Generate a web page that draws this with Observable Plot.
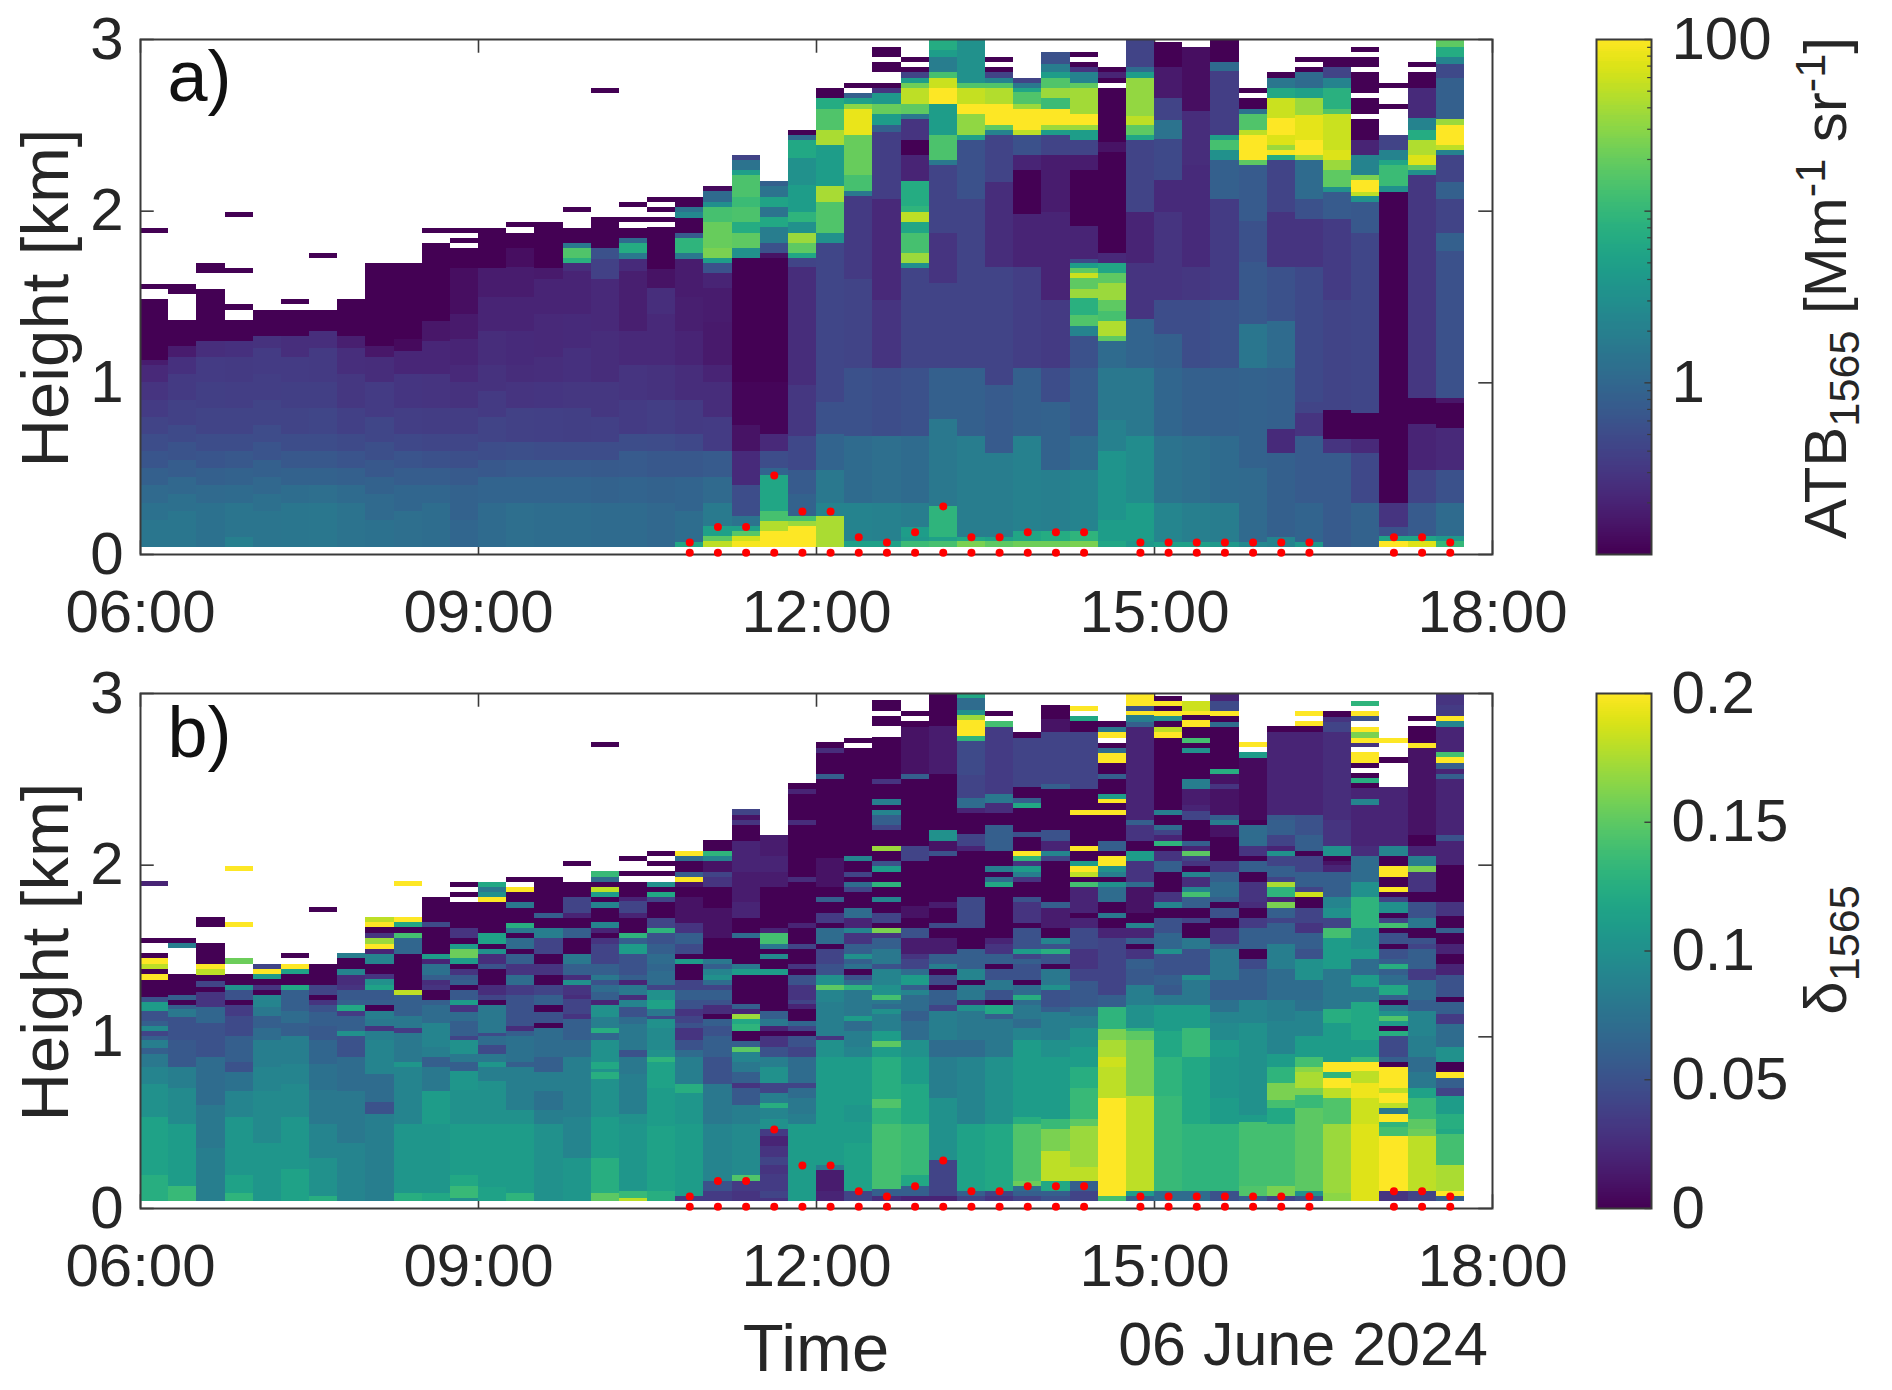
<!DOCTYPE html>
<html><head><meta charset="utf-8">
<script src="https://cdn.jsdelivr.net/npm/d3@7"></script>
<script src="https://cdn.jsdelivr.net/npm/@observablehq/plot@0.6"></script>
<style>
html,body{margin:0;padding:0;background:#fff}
#root{position:relative;width:1892px;height:1390px;overflow:hidden;font-family:"Liberation Sans",Arial,sans-serif;color:#262626}
#root svg{position:absolute;max-width:none}
.lab{position:absolute;white-space:nowrap;line-height:1;transform:translate(-50%,-50%)}
.rot{transform:translate(-50%,-50%) rotate(-90deg)}
.lab sub,.lab sup{font-size:.72em;line-height:0}
</style></head><body><div id="root"></div>
<script>
// Height at the base of every lidar profile [km]
const profileBase = 0.043;
const firstHour = 6, stepHours = 0.25;
const timeTicks = [6, 9, 12, 15, 18];
const heightTicks = [0, 1, 2, 3];
const panelLabels = ["a)", "b)"];

// Each row is one 15-minute profile: top of layer [km], value, top of layer, value ... (null = no data)
const atbProfiles = [
[.2,1.5,.3,1.3,.4,1.05,.5,.8,.6,.62,.7,.5,.8,.4,.9,.33,1,.28,1.1,.22,1.13,.17,1.483,.1,1.544,null,1.574,.1,1.871,null,1.9,.1],
[.25,1.5,.35,1.25,.45,1,.55,.75,.65,.58,.75,.47,.9,.38,1.05,.32,1.15,.26,1.21,.17,1.363,.1,1.515,null,1.574,.1],
[.3,1.3,.4,1.05,.5,.8,.6,.62,.7,.5,.85,.4,1,.36,1.15,.33,1.24,.25,1.544,.1,1.635,null,1.694,.1],
[.1,1.9,.3,1.45,.4,1.1,.5,.85,.6,.65,.7,.5,.85,.4,1,.35,1.15,.32,1.24,.26,1.363,.1,1.424,null,1.454,.1,1.635,null,1.665,.1,1.964,null,1.994,.1],
[.25,1.45,.35,1.25,.45,1,.55,.8,.65,.6,.75,.48,.9,.4,1.05,.35,1.2,.33,1.27,.27,1.424,.1],
[.3,1.5,.4,1.15,.5,.85,.6,.65,.7,.5,.85,.4,1,.36,1.15,.33,1.27,.25,1.424,.1,1.454,null,1.483,.1],
[.3,1.55,.4,1.2,.5,.85,.6,.65,.7,.5,.85,.42,1,.36,1.2,.32,1.3,.25,1.424,.1,1.723,null,1.753,.1],
[.3,1.4,.4,1.1,.5,.8,.6,.6,.7,.47,.85,.37,1.05,.3,1.2,.25,1.27,.18,1.483,.1],
[.2,1.3,.35,1.05,.45,.85,.55,.65,.65,.52,.8,.42,1,.33,1.15,.24,1.21,.15,1.694,.1],
[.25,1.2,.4,.95,.5,.75,.6,.6,.7,.45,.85,.35,1.05,.29,1.18,.21,1.25,.12,1.694,.1],
[.3,1.15,.4,.95,.5,.75,.6,.55,.7,.42,.85,.34,1.05,.28,1.24,.21,1.36,.15,1.814,.1,1.871,null,1.9,.1],
[.2,.95,.4,.85,.5,.68,.6,.52,.7,.42,.85,.34,1,.27,1.1,.22,1.25,.2,1.4,.16,1.664,.13,1.783,.1,1.812,null,1.842,.1,1.871,null,1.9,.1],
[.3,1.1,.45,.9,.55,.65,.65,.5,.8,.4,.95,.32,1.1,.27,1.3,.24,1.5,.2,1.664,.17,1.9,.1],
[.3,1.2,.45,.9,.55,.7,.65,.52,.85,.38,1,.28,1.1,.24,1.3,.23,1.5,.2,1.67,.17,1.78,.13,1.871,.1,1.903,null,1.932,.1],
[.3,1.15,.45,.9,.55,.7,.65,.5,.85,.37,1,.29,1.15,.25,1.4,.22,1.6,.2,1.664,.16,1.932,.1],
[.3,1.15,.45,.9,.55,.7,.65,.5,.85,.36,1,.3,1.2,.26,1.4,.23,1.65,.2,1.694,.24,1.723,8,1.783,15,1.812,1.6,1.9,.1,1.993,null,2.023,.1],
[.3,1.1,.45,.85,.55,.68,.65,.5,.8,.37,1,.3,1.3,.24,1.6,.22,1.72,.38,1.783,.56,1.964,.1,2.685,null,2.714,.1],
[.3,1.1,.45,.9,.6,.7,.7,.5,.9,.33,1.1,.28,1.3,.22,1.5,.18,1.65,.18,1.72,.23,1.753,1.6,1.814,7,1.84,1.1,1.9,.1,1.932,null,1.964,.1,2.023,null,2.052,.1],
[.3,1,.45,.85,.6,.65,.7,.48,.9,.35,1.1,.27,1.4,.22,1.55,.25,1.66,.14,1.903,.1,1.932,null,1.964,.1,1.993,null,2.023,.1,2.052,null,2.082,.1],
[.07,6,.25,1.15,.45,.9,.6,.65,.7,.45,.9,.32,1.1,.24,1.3,.2,1.5,.18,1.72,.17,1.753,1.6,1.84,9,1.87,.7,1.96,.1,1.99,2.5,2.023,1.4,2.082,.1],
[.073,50,.102,18,.162,5,.3,1.7,.45,1.05,.6,.7,.8,.33,1,.24,1.1,.2,1.35,.16,1.55,.17,1.635,.2,1.694,.56,1.723,4.5,1.783,25,1.932,20,2.023,13,2.052,3,2.113,1.1,2.143,.12],
[.073,90,.102,60,.132,16,.162,5,.221,1.4,.4,.5,.6,.23,.75,.14,1,.11,1.723,.1,1.783,3.2,1.871,18,1.932,7,2.02,14,2.08,11,2.206,14,2.236,5,2.295,1.4,2.324,.4],
[.132,100,.191,45,.25,13,.461,6,.5,.9,.6,.5,.7,.22,1,.11,1.723,.1,1.753,.14,1.812,.56,1.903,1.8,1.964,6.3,2.023,1.4,2.082,5.5,2.143,1.4,2.173,.8],
[.162,100,.191,35,.221,13,.35,.85,.49,.7,.69,.45,.985,.3,1.674,.24,1.723,.4,1.753,6,1.812,18,1.871,35,1.932,3.2,1.993,9,2.147,4.5,2.305,3.2,2.41,6.3,2.442,1.1,2.472,.1],
[.221,42,.3,2.2,.49,1.6,.7,.9,.886,.55,1.812,.42,1.87,3.2,2.05,15,2.143,40,2.383,4.5,2.472,42,2.59,15,2.655,7,2.714,.1],
[.073,5,.295,2.2,.689,1.1,1.083,.55,1.6,.4,2.087,.32,2.113,1.6,2.206,13,2.442,20,2.594,80,2.624,30,2.655,5,2.685,.8,2.714,null,2.744,.1],
[.073,5,.295,2,.689,1.2,1.083,.5,1.477,.28,2.07,.22,2.46,.35,2.5,.8,2.564,4.5,2.624,20,2.685,4,2.714,.28,2.744,.1,2.805,null,2.864,.1,2.895,null,2.955,.1],
[.073,11,.1,4,.16,4.5,.295,1.8,.689,1.1,1.083,.55,1.664,.4,1.694,3,1.753,35,1.871,13,1.932,6,1.99,50,2.03,9,2.173,7,2.324,.2,2.413,.1,2.533,.28,2.564,1.6,2.624,18,2.714,50,2.744,22,2.773,4.5,2.805,.4,2.836,.1,2.864,null,2.895,.1],
[.073,13,.098,5,.28,9,.788,1.6,1.083,.8,1.576,.4,1.871,.28,2.265,.4,2.295,1.6,2.442,14,2.624,4.5,2.714,100,2.773,58,2.805,13,2.895,1.8,2.935,4.5,3,7],
[.073,25,.098,6,.689,1.8,1.083,.8,2.07,.4,2.413,.55,2.442,5,2.564,32,2.624,100,2.714,55,2.744,15,3,3.2],
[.073,18,.098,5,.591,1.8,.985,.7,1.674,.4,2.167,.24,2.442,.4,2.472,2.2,2.5,18,2.624,100,2.714,45,2.744,15,2.773,2.2,2.805,.4,2.836,.1,2.864,null,2.895,.1],
[.073,22,.132,6,.689,2,1.083,.8,1.674,.35,1.983,.2,2.236,.1,2.324,.2,2.442,.55,2.47,50,2.594,100,2.624,35,2.69,15,2.714,6,2.744,1.6,2.773,.4],
[.073,22,.132,7,.492,1.9,.886,.85,1.083,.5,1.48,.32,1.674,.2,1.99,.2,2.324,.17,2.442,.4,2.472,4.5,2.5,35,2.594,100,2.655,11,2.714,35,2.773,15,2.805,4.5,2.856,1.8,2.925,.55],
[.073,25,.132,9,.492,2.2,.689,1.1,1.083,.7,1.27,.55,1.33,2.2,1.39,15,1.49,8,1.544,35,1.605,18,1.635,58,1.664,18,1.694,4.5,1.72,.46,1.91,.2,2.236,.1,2.324,.17,2.413,.4,2.472,4.5,2.5,35,2.564,100,2.714,38,2.744,18,2.805,2.2,2.836,.28,2.864,.1,2.895,null,2.925,.1],
[.073,6,.2,4.5,.6,3.6,.78,2,1.083,1.6,1.24,1.1,1.27,18,1.355,44,1.414,13,1.477,18,1.576,35,1.635,18,1.694,6,1.753,.22,2.344,.1,2.4,.14,2.714,.1,2.744,null,2.773,.1,2.805,.2,2.836,.1],
[.073,4,.295,4.5,.689,2.8,1.083,1.6,1.37,.9,1.694,.28,1.99,.2,2.413,.4,2.442,6,2.5,18,2.554,50,2.773,33,2.805,4.5,2.836,1.1,3,.4],
[.07,5,.295,2.3,.689,1.4,1.083,.95,1.28,.8,1.477,.5,1.99,.28,2.18,.23,2.42,.46,2.53,1.4,2.655,.4,2.836,.16,2.98,.1],
[.07,5,.295,1.9,.689,1.2,1.083,.8,1.477,.5,1.674,.3,2.265,.23,2.58,.24,2.955,.13],
[.07,4,.295,1.8,.689,1.1,1.083,.8,1.477,.55,2.07,.33,2.295,.8,2.354,3.2,2.413,13,2.442,5,2.815,.35,2.865,1.1,3,.1],
[.07,2.5,.5,1.05,1.083,.85,1.34,1.5,1.7,.65,1.94,.55,2.265,.7,2.295,18,2.442,100,2.472,50,2.564,15,2.594,1.4,2.655,.1,2.685,null,2.714,.1],
[.1,2.2,.591,.8,.73,.23,1.083,.8,1.36,1.1,1.674,.55,1.99,.28,2.295,.4,2.324,7,2.354,90,2.383,35,2.44,70,2.54,100,2.655,58,2.714,6.3,2.773,1.5,2.805,.1],
[.07,4,.295,.9,.689,.7,.82,.28,.886,.4,1.674,.46,1.95,.28,2.07,.56,2.295,1.1,2.324,35,2.413,100,2.56,75,2.655,35,2.714,5,2.805,1.1,2.836,.1,2.864,null,2.895,.1],
[.591,.7,.67,.28,.84,.1,1.477,.4,1.95,.33,2.11,.7,2.14,3.2,2.236,18,2.295,35,2.354,70,2.564,58,2.594,15,2.714,8,2.773,2.2,2.836,.4,2.895,.1],
[.295,.85,.591,.45,.67,.22,.82,.1,1.87,.42,2.05,.65,2.084,3.2,2.11,50,2.176,100,2.206,25,2.324,2.2,2.413,.2,2.533,.1,2.564,null,2.655,.1,2.685,null,2.805,.1,2.836,null,2.895,.1,2.925,null,2.955,.1],
[.073,100,.102,5.5,.157,.56,.295,.28,2.107,.1,2.143,3.2,2.265,11,2.295,6,2.354,2.2,2.442,.4,2.594,null,2.624,.1,2.714,null,2.744,.1],
[.073,70,.102,5.5,.295,.7,.492,.4,.76,.2,.91,.1,2.206,.3,2.236,3.2,2.265,18,2.324,70,2.413,44,2.47,7,2.54,2.2,2.714,.23,2.805,.1,2.836,null,2.864,.1],
[.073,10,.102,4,.295,1.1,.492,.55,.733,.22,.88,.1,.91,.15,1.767,.55,1.87,.8,2.07,.4,2.167,.8,2.324,.4,2.354,2.2,2.383,50,2.5,100,2.533,35,2.773,.8,2.856,.46,2.895,2.2,2.955,7,3,18]
];

const depolProfiles = [
[.19,.125,.53,.115,.72,.1,.82,.09,.9,.08,.93,.06,.98,.085,1,.06,1.03,.04,1.06,.095,1.09,.06,1.15,.05,1.2,.11,1.23,.05,1.33,0,1.363,.2,1.393,0,1.424,.18,1.454,.2,1.483,0,1.544,null,1.574,0,1.875,null,1.905,.02],
[.13,.135,.49,.11,.7,.095,.82,.085,.98,.055,1.11,.05,1.16,.08,1.18,.06,1.21,0,1.24,.06,1.363,0,1.515,null,1.544,.085,1.574,0],
[.35,.085,.6,.08,.88,.07,1.08,.05,1.17,.065,1.26,.03,1.29,0,1.32,.04,1.36,0,1.39,.18,1.42,.2,1.544,0,1.635,null,1.694,0],
[.09,.13,.19,.115,.53,.105,.68,.09,.79,.075,.85,.05,1,.06,1.12,.045,1.18,.035,1.21,0,1.27,.05,1.3,.1,1.363,0,1.424,null,1.454,.155,1.635,null,1.665,.2,1.964,null,1.994,.2],
[.38,.105,.68,.095,.82,.09,.98,.085,1.05,.07,1.12,.06,1.17,.08,1.24,.09,1.27,0,1.3,.03,1.333,0,1.363,.11,1.393,.2,1.424,.04],
[.23,.115,.53,.105,.72,.095,.84,.09,1,.085,1.08,.06,1.15,.07,1.27,.06,1.3,.12,1.363,0,1.393,.115,1.424,.2,1.454,null,1.483,0],
[.07,.125,.29,.1,.49,.09,.69,.08,.84,.075,.98,.065,1.06,.055,1.14,.06,1.18,.05,1.21,.03,1.24,0,1.3,.04,1.424,0,1.723,null,1.753,0],
[.38,.09,.68,.08,.88,.07,1,.05,1.03,.1,1.12,.06,1.15,.035,1.18,.12,1.21,.06,1.27,.055,1.3,.03,1.36,.025,1.39,.09,1.454,0,1.483,.085],
[.55,.085,.62,.05,.78,.07,.98,.09,1.03,.085,1.06,.03,1.1,.08,1.15,.085,1.18,0,1.21,.06,1.27,.055,1.3,.115,1.333,.1,1.363,.03,1.42,0,1.48,.09,1.51,.02,1.54,.2,1.57,.17,1.6,.03,1.635,0,1.664,.2,1.694,.18],
[.09,.125,.49,.105,.69,.09,.82,.09,.85,.105,1.02,.08,1.05,.035,1.12,.08,1.18,.06,1.24,.06,1.27,.18,1.48,0,1.57,.065,1.6,.14,1.635,0,1.664,.12,1.694,.2,1.875,null,1.905,.2],
[.09,.12,.49,.105,.68,.11,.82,.08,.88,.06,.94,.085,1.08,.09,1.18,.07,1.21,.06,1.27,0,1.3,.03,1.33,.025,1.36,.06,1.42,.075,1.45,.02,1.48,.11,1.635,0,1.664,.045,1.81,0],
[.06,.1,.13,.135,.19,.12,.49,.11,.69,.1,.8,.105,.85,.06,.9,.08,.98,.1,1,.04,1.09,.06,1.14,.07,1.18,.03,1.21,.11,1.27,.055,1.3,0,1.33,.06,1.36,.055,1.393,.03,1.424,0,1.454,.11,1.51,.155,1.54,.11,1.57,0,1.63,.03,1.78,0,1.81,null,1.84,0,1.87,null,1.9,0],
[.12,.115,.49,.11,.74,.1,.82,.085,.85,.105,.9,.08,.95,.045,1,.07,1.02,.045,1.1,.08,1.18,.08,1.21,0,1.24,.04,1.3,.025,1.39,0,1.42,.05,1.48,.025,1.51,.1,1.54,0,1.6,.115,1.78,0,1.81,.2,1.84,.1,1.87,.08,1.9,.12],
[.09,.13,.49,.11,.57,.1,.82,.085,.85,.06,1,.075,1.03,.06,1.06,.025,1.12,.05,1.24,.05,1.3,.035,1.36,.07,1.42,.03,1.48,.06,1.51,0,1.57,.07,1.6,0,1.63,.08,1.66,.125,1.75,0,1.78,.08,1.84,0,1.87,.2,1.9,null,1.93,0],
[.49,.1,.57,.085,.68,.075,.79,.085,.88,.06,1.05,.07,1.08,0,1.14,.05,1.18,0,1.24,.06,1.3,.04,1.36,0,1.42,.03,1.48,0,1.57,.04,1.63,.085,1.69,0,1.72,.06,1.93,0],
[.29,.105,.53,.09,.88,.085,.98,.07,1.1,.06,1.13,.03,1.22,.04,1.24,.025,1.3,.03,1.33,.1,1.36,.025,1.42,.06,1.48,.08,1.57,0,1.63,.06,1.69,0,1.72,.02,1.81,.04,1.9,0,1.993,null,2.023,0],
[.09,.15,.29,.125,.53,.11,.75,.1,.79,.125,.81,.1,.85,.12,.98,.1,1.02,.065,1.05,.125,1.11,.085,1.18,.1,1.21,.02,1.26,.06,1.3,.07,1.33,.05,1.36,.08,1.42,.06,1.54,.04,1.57,.03,1.6,0,1.63,.02,1.664,.09,1.75,0,1.78,.09,1.81,0,1.84,.11,1.87,.18,1.9,0,1.93,.07,1.965,.135,2.685,null,2.714,0],
[.06,.18,.1,.135,.49,.105,.55,.1,.78,.085,.88,.08,.92,.05,1.07,.08,1.11,.07,1.17,.05,1.21,.09,1.24,.025,1.3,.08,1.33,.02,1.36,.06,1.42,.05,1.48,.05,1.54,.11,1.57,.06,1.6,.13,1.69,0,1.72,.02,1.79,.04,1.81,.02,1.9,0,1.932,null,1.964,0,2.02,null,2.05,0],
[.1,.125,.48,.115,.7,.11,.85,.115,.88,.13,.92,.1,1.05,.095,1.1,.1,1.12,.045,1.16,.08,1.21,.115,1.27,.1,1.3,.04,1.38,.07,1.42,.065,1.48,.07,1.54,.06,1.57,.05,1.6,.05,1.63,.13,1.69,.04,1.78,0,1.81,.04,1.84,.12,1.87,0,1.9,.1,1.932,null,1.964,0,1.993,null,2.023,0,2.052,null,2.082,0],
[.07,.035,.49,.11,.67,.105,.72,.125,.88,.085,.92,.07,.98,.05,1.05,.03,1.08,.05,1.12,.04,1.16,.03,1.21,.05,1.27,.06,1.33,.04,1.42,0,1.45,.11,1.48,0,1.54,.045,1.6,.06,1.66,.03,1.81,.01,1.87,0,1.9,.01,1.93,.2,1.96,.06,2.02,0,2.05,.07,2.082,.2],
[.1,.035,.16,.05,.49,.09,.72,.08,.88,.05,1,.06,1.06,.05,1.1,.06,1.13,0,1.18,.025,1.21,.05,1.27,.06,1.3,.04,1.33,.07,1.36,.1,1.39,.09,1.42,.06,1.45,.08,1.57,0,1.75,.01,1.87,0,1.93,.03,1.96,.04,2.02,.01,2.05,.09,2.082,.13,2.143,0],
[.1,.03,.16,.035,.19,.145,.49,.095,.6,.085,.7,.055,.73,.03,.79,.06,.85,.08,.91,.09,.94,.15,.97,.06,1.03,0,1.07,.13,1.1,.12,1.13,.17,1.16,.02,1.19,.06,1.36,0,1.39,.11,1.42,.08,1.57,0,1.6,.07,1.69,0,1.78,.02,1.96,.015,2.14,.02,2.23,0,2.26,.03,2.29,.01,2.324,.04],
[.06,.03,.1,.04,.15,.035,.2,.035,.25,.03,.3,.04,.36,.03,.42,.02,.46,.035,.52,.1,.58,.09,.61,.125,.67,.085,.73,.04,.82,.1,.88,.085,.94,.05,1,.03,1.03,0,1.06,.02,1.1,.08,1.15,.06,1.36,0,1.39,.11,1.45,0,1.48,.095,1.51,0,1.54,.08,1.6,.14,1.63,.02,1.87,0,1.96,.015,2.05,.02,2.173,.015],
[.49,.11,.55,.085,.64,.08,.7,.07,.73,.04,.88,.07,.94,.04,1,.05,1.03,0,1.06,.04,1.09,.065,1.16,0,1.19,.02,1.21,.04,1.3,.03,1.36,.05,1.39,0,1.42,.03,1.51,0,1.54,.04,1.63,0,1.66,.02,1.9,0,1.93,.025,2.23,0,2.26,.025,2.41,0,2.44,.02,2.473,0],
[.1,.02,.22,.015,.25,.08,.88,.11,.98,.1,1,.03,1.2,.085,1.24,.09,1.27,.09,1.3,.15,1.36,.1,1.42,.05,1.51,.04,1.54,0,1.57,.07,1.63,.07,1.66,0,1.72,.035,1.78,0,1.81,.06,1.87,0,2.04,.01,2.5,0,2.53,.06,2.65,0,2.68,.025,2.714,0],
[.1,.04,.38,.115,.5,.11,.6,.105,.88,.11,.94,.09,1.03,.085,1.09,.07,1.12,.11,1.18,.08,1.27,.08,1.3,.13,1.33,.07,1.36,.05,1.39,0,1.42,.075,1.45,.06,1.48,.1,1.54,.06,1.6,.03,1.63,.09,1.69,.02,1.75,.07,1.84,0,1.87,.04,1.9,.07,1.93,0,1.96,.04,2.02,0,2.05,.09,2.68,0,2.71,null,2.74,0],
[.07,.025,.11,.06,.49,.14,.585,.13,.634,.145,.88,.125,.94,.11,.97,.15,1.03,.11,1.13,.085,1.16,.1,1.19,.07,1.21,.08,1.24,.14,1.3,.1,1.39,.09,1.42,.05,1.51,.08,1.57,.06,1.6,.03,1.63,.16,1.66,0,1.72,.04,1.78,0,1.81,.09,1.87,0,1.9,.13,1.96,0,1.99,.11,2.02,.05,2.08,0,2.11,.17,2.2,0,2.23,.04,2.29,.06,2.32,.09,2.35,0,2.38,.085,2.47,0,2.5,.03,2.744,0,2.805,null,2.864,0,2.895,null,2.96,0],
[.07,.02,.13,.06,.19,.12,.49,.135,.72,.12,.88,.11,.98,.1,1.09,.07,1.15,.06,1.24,.07,1.27,.09,1.3,.06,1.36,.11,1.39,.07,1.45,.04,1.48,.03,1.57,.015,1.63,.05,1.69,0,1.76,.01,2.02,0,2.05,.04,2.11,.04,2.5,0,2.53,.06,2.65,.01,2.8,.01,2.836,0,2.864,null,2.895,0],
[.07,.02,.28,.04,.64,.1,.88,.085,.98,.07,1.15,.085,1.18,.04,1.27,.06,1.3,0,1.36,.045,1.39,0,1.42,.085,1.48,.06,1.57,.015,1.63,0,1.66,.045,1.75,0,1.78,.015,2.05,0,2.08,.05,2.14,.01,2.2,.1,2.53,0,2.81,.015,3,0],
[.07,.04,.1,.06,.49,.115,.88,.09,.98,.07,1.15,.08,1.18,.1,1.21,.02,1.3,.08,1.33,0,1.39,.09,1.45,.06,1.51,.06,1.63,0,1.81,.045,2.08,0,2.11,.02,2.18,.04,2.3,0,2.33,.02,2.39,.07,2.52,.04,2.72,.045,2.75,.13,2.84,.2,2.87,.17,2.9,.1,2.97,.07,3,.12],
[.07,.03,.1,.04,.49,.12,.88,.1,1.1,.08,1.13,.06,1.18,.12,1.21,0,1.27,.05,1.33,.08,1.39,.05,1.42,0,1.48,.06,1.54,.03,1.57,.02,1.87,0,1.9,.12,1.93,.07,1.96,0,1.99,.085,2.08,0,2.23,.06,2.3,0,2.36,.025,2.41,.08,2.8,.035,2.836,.14,2.864,null,2.895,0],
[.07,.04,.1,.06,.13,.07,.16,.155,.49,.145,.53,.125,.88,.11,.98,.11,1.05,.09,1.1,.07,1.18,.08,1.21,.07,1.24,.125,1.3,.07,1.33,0,1.36,.05,1.42,.05,1.45,.06,1.48,.04,1.51,.11,1.57,.05,1.63,.05,1.66,0,1.78,.03,1.81,.05,1.9,0,1.93,.03,1.96,.085,1.99,.11,2.02,.03,2.05,.13,2.08,.2,2.16,0,2.19,.05,2.33,0,2.36,.12,2.39,.06,2.45,0,2.74,.04,2.773,0],
[.07,.05,.1,.06,.16,.12,.33,.18,.46,.16,.52,.135,.88,.11,.98,.1,1.14,.085,1.17,.06,1.27,.05,1.3,.1,1.39,.08,1.42,0,1.48,.05,1.51,.125,1.54,.05,1.57,.09,1.63,0,1.75,.015,1.78,.06,2.02,0,2.05,.04,2.08,.09,2.14,.02,2.2,.05,2.44,0,2.47,.06,2.77,.04,2.85,.01,2.93,0],
[.1,.04,.16,.06,.24,.18,.48,.17,.52,.15,.7,.135,.82,.125,.94,.11,1.05,.1,1.12,.085,1.17,.075,1.32,.055,1.39,.04,1.51,.03,1.63,.045,1.69,.02,1.72,0,1.87,.02,1.9,.14,1.93,0,1.96,.18,1.99,.2,2.02,.11,2.08,0,2.11,.2,2.29,0,2.32,.2,2.44,0,2.77,.04,2.836,0,2.865,.12,2.895,null,2.925,.2],
[.07,.14,.64,.2,.82,.18,.88,.185,.98,.175,1.04,.16,1.17,.13,1.24,.06,1.57,.04,1.63,.02,1.69,0,1.72,.08,1.78,0,1.87,.07,1.9,.1,1.93,0,1.96,.085,1.99,.1,2.05,.2,2.08,0,2.14,.06,2.29,0,2.32,.2,2.36,0,2.38,.2,2.41,.11,2.5,0,2.53,.06,2.59,0,2.65,.2,2.68,.07,2.71,0,2.74,null,2.77,.2,2.8,.08,2.836,0],
[.07,.06,.1,.11,.65,.18,.98,.16,1.03,.15,1.05,.13,1.18,.1,1.3,.085,1.39,.055,1.45,.06,1.51,.03,1.54,0,1.57,.06,1.63,.02,1.66,.09,1.72,0,1.87,.01,1.9,.07,2.02,.03,2.08,.11,2.14,0,2.23,.03,2.26,.06,2.38,.02,2.8,.02,2.83,.06,2.87,.085,2.895,.2,2.925,.05,3,.2],
[.1,.07,.65,.135,.88,.13,1.03,.12,1.18,.11,1.24,.08,1.3,.055,1.36,.06,1.48,.05,1.51,.1,1.6,.065,1.69,.05,1.75,0,1.78,.09,1.84,.03,1.96,0,2.02,.06,2.08,.03,2.11,0,2.14,.13,2.17,.02,2.2,.04,2.23,.07,2.29,0,2.32,.085,2.74,0,2.77,.2,2.8,.18,2.836,0,2.865,.1,2.895,.2,2.925,0,2.955,.2,2.98,0],
[.1,.07,.49,.13,.88,.12,1.05,.135,1.18,.11,1.33,.08,1.36,.1,1.51,.05,1.57,.08,1.66,0,1.69,.04,1.75,0,1.81,.06,1.84,.14,1.87,.09,1.93,.025,1.96,.09,1.99,0,2.02,.03,2.05,.04,2.08,.15,2.11,.02,2.14,.06,2.26,0,2.31,.04,2.35,.02,2.44,.015,2.5,.085,2.65,0,2.68,.1,2.71,0,2.74,.14,2.8,0,2.84,.2,2.87,0,2.895,.2,2.955,.185],
[.1,.05,.49,.13,.64,.11,.88,.105,.98,.11,1.08,.095,1.14,.09,1.21,.075,1.33,.06,1.51,.08,1.54,.06,1.63,.03,1.69,0,1.75,.05,1.78,0,1.81,.06,1.9,.07,1.96,.06,2.02,.03,2.16,0,2.23,.01,2.26,.085,2.29,.06,2.44,.01,2.47,.03,2.53,.01,2.56,.125,2.8,0,2.83,.07,2.865,0,2.895,.2,2.955,.045,3,.02],
[.07,.06,.13,.145,.5,.14,.54,.11,.88,.1,1.08,.1,1.21,.09,1.39,.06,1.45,.045,1.51,0,1.63,.06,1.69,.035,1.75,0,1.78,.025,1.9,.03,1.96,0,2.02,.06,2.05,0,2.11,.03,2.23,.07,2.26,0,2.62,.005,2.655,.11,2.685,null,2.714,.2],
[.07,.04,.13,.16,.49,.14,.585,.12,.63,.14,.73,.16,.82,.13,.9,.11,1.09,.09,1.21,.085,1.39,.07,1.54,.085,1.66,.06,1.69,.04,1.75,.06,1.78,.16,1.81,.02,1.87,.13,1.9,.175,1.93,.04,1.99,.06,2.05,.04,2.08,.1,2.11,.02,2.17,.04,2.26,.06,2.29,.055,2.77,.02,2.805,0],
[.07,.05,.1,.1,.58,.15,.66,.135,.7,.16,.79,.175,.82,.165,.88,.14,1,.11,1.15,.09,1.21,.075,1.33,.07,1.45,.1,1.51,.05,1.6,.06,1.66,.03,1.75,.04,1.81,0,1.84,.185,1.87,.04,1.96,.06,2.05,.04,2.08,0,2.17,.06,2.29,.05,2.775,.02,2.807,0,2.834,.2,2.864,null,2.893,.2],
[.09,.165,.49,.17,.64,.145,.7,.18,.76,.2,.79,.13,.85,.2,1.08,.11,1.16,.125,1.39,.08,1.57,.11,1.63,.14,1.69,.04,1.75,.1,1.81,.09,1.96,.06,2,.02,2.02,.01,2.05,0,2.11,.1,2.17,.03,2.26,.03,2.77,.025,2.83,.04,2.86,.03,2.893,0],
[.49,.19,.64,.185,.73,.195,.8,.18,.85,.2,.88,.135,.98,.11,1.2,.12,1.29,.08,1.36,.11,1.45,.07,1.51,.11,1.63,.1,1.81,.13,1.9,.1,2.05,.07,2.11,.025,2.29,.02,2.35,.02,2.38,.09,2.445,.02,2.475,0,2.505,.125,2.535,0,2.565,null,2.595,0,2.655,.2,2.685,null,2.71,.03,2.74,.2,2.77,.16,2.8,.2,2.835,null,2.865,.05,2.895,.2,2.925,null,2.955,.13],
[.1,.03,.42,.2,.47,.14,.5,.13,.55,.2,.58,.08,.61,.18,.67,.2,.7,.18,.82,.2,.85,0,.88,.06,1,.045,1.03,.125,1.06,0,1.09,.11,1.12,.145,1.15,.1,1.18,.08,1.21,0,1.24,.06,1.3,.12,1.36,.07,1.39,.06,1.42,.125,1.45,.06,1.51,.05,1.54,0,1.6,.05,1.63,0,1.66,.14,1.69,.04,1.72,0,1.78,.1,1.81,.04,1.84,0,1.87,.2,1.93,0,1.99,.2,2.05,0,2.11,.09,2.45,.02,2.595,null,2.625,0,2.71,null,2.74,.2],
[.1,.04,.3,.18,.42,.18,.46,.155,.52,.15,.64,.135,.7,.115,.79,.08,.88,.07,1,.085,1.15,.09,1.21,.06,1.33,.07,1.39,.035,1.45,.06,1.51,.06,1.54,.04,1.57,.05,1.63,0,1.69,.08,1.78,.05,1.84,0,1.96,.03,1.99,.16,2.05,.085,2.11,.02,2.17,0,2.68,.01,2.71,.2,2.81,0,2.835,null,2.865,0],
[.07,.06,.1,.2,.25,.175,.43,.14,.46,.12,.55,.125,.65,.11,.7,.04,.76,.06,.79,.2,.85,0,.94,.1,1.07,.07,1.13,.035,1.2,.06,1.23,0,1.36,.05,1.42,.02,1.48,0,1.54,.02,1.6,0,1.63,.06,1.7,0,1.78,.03,2,0,2.14,.02,2.17,.05,2.5,.02,2.53,.06,2.56,.02,2.595,.06,2.625,.2,2.655,.14,2.8,.02,2.835,.09,2.865,.2,2.93,.035,3,.03]
];

// Red markers: profile centre time [h], upper marker height [km]; lower markers all sit at lowMarkerHeight
const markerHours = [10.875,11.125,11.375,11.625,11.875,12.125,12.375,12.625,12.875,13.125,13.375,13.625,13.875,14.125,14.375,14.875,15.125,15.375,15.625,15.875,16.125,16.375,17.125,17.375,17.625];
const markerHeights = [.07,.16,.16,.46,.25,.25,.1,.07,.13,.28,.1,.1,.13,.13,.13,.07,.07,.07,.07,.07,.07,.07,.1,.1,.07];
const lowMarkerHeight = 0.01;

// Colour bars
const atbDomain = [0.1, 100];
const atbMajor = [1, 10, 100];
const atbMinor = [.2,.3,.4,.5,.6,.7,.8,.9,2,3,4,5,6,7,8,9,20,30,40,50,60,70,80,90];
const atbLabels = [1, 100];
const depolDomain = [0, 0.2];
const depolTicks = [0, 0.05, 0.1, 0.15, 0.2];
const depolLabels = ["0", "0.05", "0.1", "0.15", "0.2"];

const ink = "#262626", frameInk = "#3a3a3a", FS = 60;
const panelW = 1580, panelH = 654, mL = 140, mT = 39, mB = 100, mR = 88;
const root = document.getElementById("root");

function layers(profiles) {
  const out = [];
  profiles.forEach((row, i) => {
    let lo = profileBase;
    for (let j = 0; j < row.length; j += 2) {
      const hi = row[j], v = row[j + 1];
      if (v !== null) out.push({t1: firstHour + i * stepHours, t2: firstHour + (i + 1) * stepHours, h1: lo, h2: hi, v});
      lo = hi;
    }
  });
  return out;
}
const hhmm = h => String(h).padStart(2, "0") + ":00";

function panel(profiles, color, label, labelY, top) {
  const p = Plot.plot({
    width: panelW, height: panelH, marginLeft: mL, marginRight: mR, marginTop: mT, marginBottom: mB,
    style: {fontFamily: '"Liberation Sans",Arial,sans-serif', background: "transparent", color: ink},
    x: {domain: [6, 18], label: null, axis: null},
    y: {domain: [0, 3], label: null, axis: null},
    color,
    marks: [
      Plot.ruleX(timeTicks, {y1: 0, y2: .08, stroke: frameInk, strokeWidth: 1.6}),
      Plot.ruleX(timeTicks, {y1: 3, y2: 2.92, stroke: frameInk, strokeWidth: 1.6}),
      Plot.ruleY(heightTicks, {x1: 6, x2: 6.122, stroke: frameInk, strokeWidth: 1.6}),
      Plot.ruleY(heightTicks, {x1: 18, x2: 17.878, stroke: frameInk, strokeWidth: 1.6}),
      Plot.rect(layers(profiles), {x1: "t1", x2: "t2", y1: "h1", y2: "h2", fill: "v", shapeRendering: "crispEdges"}),
      Plot.frame({stroke: frameInk, strokeWidth: 2}),
      Plot.axisX(timeTicks, {anchor: "bottom", label: null, tickSize: 0, tickPadding: 35, fontSize: FS, tickFormat: hhmm, fill: ink}),
      Plot.axisY(heightTicks, {anchor: "left", label: null, tickSize: 0, tickPadding: 17, fontSize: FS, tickFormat: d => String(d), fill: ink}),
      Plot.text([label], {x: 6.24, y: labelY, text: d => d, textAnchor: "start", lineAnchor: "bottom", fontSize: 72, fill: "#111"}),
      Plot.dot(markerHours, {x: d => d, y: () => lowMarkerHeight, r: 4, fill: "#ff0000", stroke: "none"}),
      Plot.dot(markerHours, {x: d => d, y: (d, i) => markerHeights[i], r: 4, fill: "#ff0000", stroke: "none"})
    ]
  });
  p.style.left = "0px"; p.style.top = top + "px";
  root.appendChild(p);
}

function colorbar(opts, top) {
  const p = Plot.plot({
    width: 312, height: panelH, marginLeft: 16, marginRight: 241, marginTop: mT, marginBottom: mB,
    style: {fontFamily: '"Liberation Sans",Arial,sans-serif', background: "transparent", color: ink},
    x: {domain: [0, 1], axis: null, label: null},
    y: {...opts.y, axis: null, label: null},
    color: opts.color,
    marks: [
      Plot.rect(opts.stops, {x1: 0, x2: 1, y1: "a", y2: "b", fill: "a", shapeRendering: "crispEdges"}),
      Plot.ruleY(opts.major, {x1: 1, x2: .88, stroke: frameInk, strokeWidth: 1.4}),
      Plot.ruleY(opts.minor, {x1: 1, x2: .93, stroke: frameInk, strokeWidth: 1.2}),
      Plot.frame({stroke: frameInk, strokeWidth: 2}),
      Plot.text(opts.labelAt, {x: 1, dx: 20, y: d => d, text: opts.labelText, textAnchor: "start", fontSize: FS, fill: ink, lineAnchor: "middle"})
    ]
  });
  p.style.left = "1580px"; p.style.top = top + "px";
  root.appendChild(p);
}

const atbColor = {type: "log", domain: atbDomain, scheme: "viridis", clamp: true};
const depolColor = {type: "linear", domain: depolDomain, scheme: "viridis", clamp: true};
panel(atbProfiles, atbColor, panelLabels[0], 2.64, 0);
panel(depolProfiles, depolColor, panelLabels[1], 2.63, 654);

const barSteps = d3.range(256);
colorbar({
  y: {type: "log", domain: atbDomain}, color: atbColor,
  stops: barSteps.map(i => ({a: 10 ** (-1 + 3 * i / 256), b: 10 ** (-1 + 3 * (i + 1) / 256)})),
  major: atbMajor, minor: atbMinor, labelAt: atbLabels, labelText: d => String(d)
}, 0);
colorbar({
  y: {type: "linear", domain: depolDomain}, color: depolColor,
  stops: barSteps.map(i => ({a: .2 * i / 256, b: .2 * (i + 1) / 256})),
  major: depolTicks, minor: [], labelAt: depolTicks, labelText: (d, i) => depolLabels[i]
}, 654);

function label(html, x, y, size, rot) {
  const d = document.createElement("div");
  d.className = "lab" + (rot ? " rot" : "");
  d.innerHTML = html; d.style.left = x + "px"; d.style.top = y + "px"; d.style.fontSize = size + "px";
  root.appendChild(d);
}
label("Height [km]", 44, 298, 67, true);
label("Height [km]", 44, 952, 67, true);
label("ATB<sub>1565</sub> [Mm<sup>-1</sup> sr<sup>-1</sup>]", 1826, 288, 60, true);
label("δ<sub>1565</sub>", 1826, 950, 60, true);
label("Time", 816, 1347, 67, false);
label("06 June 2024", 1303, 1344, 61, false);
</script></body></html>
